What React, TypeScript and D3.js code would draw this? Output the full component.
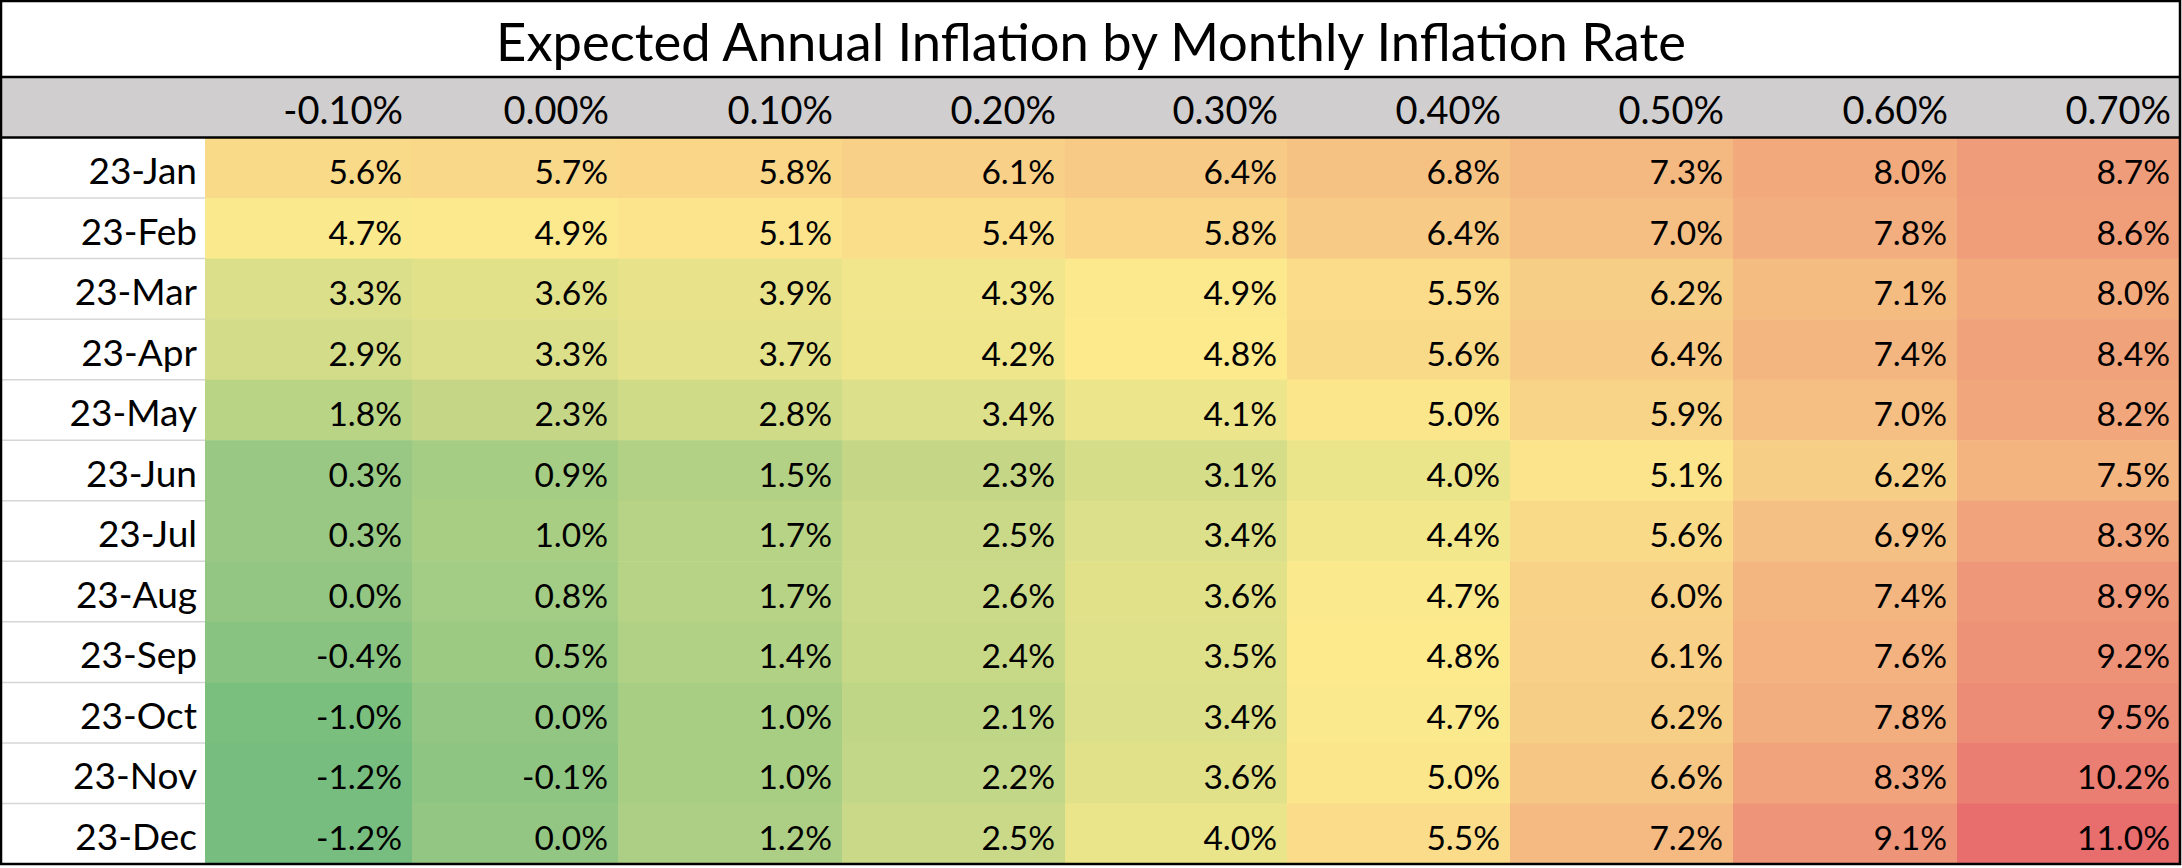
import React, { useEffect } from "react";
import * as d3 from "d3";

const title = "Expected Annual Inflation by Monthly Inflation Rate";
const monthlyRates = ["-0.10%", "0.00%", "0.10%", "0.20%", "0.30%", "0.40%", "0.50%", "0.60%", "0.70%"];
const months = ["23-Jan", "23-Feb", "23-Mar", "23-Apr", "23-May", "23-Jun", "23-Jul", "23-Aug", "23-Sep", "23-Oct", "23-Nov", "23-Dec"];

const jan = [5.6, 5.7, 5.8, 6.1, 6.4, 6.8, 7.3, 8.0, 8.7];
const feb = [4.7, 4.9, 5.1, 5.4, 5.8, 6.4, 7.0, 7.8, 8.6];
const mar = [3.3, 3.6, 3.9, 4.3, 4.9, 5.5, 6.2, 7.1, 8.0];
const apr = [2.9, 3.3, 3.7, 4.2, 4.8, 5.6, 6.4, 7.4, 8.4];
const may = [1.8, 2.3, 2.8, 3.4, 4.1, 5.0, 5.9, 7.0, 8.2];
const jun = [0.3, 0.9, 1.5, 2.3, 3.1, 4.0, 5.1, 6.2, 7.5];
const jul = [0.3, 1.0, 1.7, 2.5, 3.4, 4.4, 5.6, 6.9, 8.3];
const aug = [0.0, 0.8, 1.7, 2.6, 3.6, 4.7, 6.0, 7.4, 8.9];
const sep = [-0.4, 0.5, 1.4, 2.4, 3.5, 4.8, 6.1, 7.6, 9.2];
const oct = [-1.0, 0.0, 1.0, 2.1, 3.4, 4.7, 6.2, 7.8, 9.5];
const nov = [-1.2, -0.1, 1.0, 2.2, 3.6, 5.0, 6.6, 8.3, 10.2];
const dec = [-1.2, 0.0, 1.2, 2.5, 4.0, 5.5, 7.2, 9.1, 11.0];

const values = [jan, feb, mar, apr, may, jun, jul, aug, sep, oct, nov, dec];

// layout
const W = 2182;
const H = 868;
const labelColW = 205;
const colWidths = [207, 206, 224, 223, 222, 223, 223, 224, 223];
const titleBottom = 77;
const headerBottom = 137.5;
const tableBottom = 864;
const tableRight = 2180;
const FONT = "Lato, 'Open Sans', sans-serif";

export default function App() {
  useEffect(() => {
    document.body.style.margin = "0";
  }, []);

  const colStarts: number[] = [];
  colWidths.reduce((acc, w) => {
    colStarts.push(acc);
    return acc + w;
  }, labelColW);

  const y = d3.scaleBand<string>().domain(months).range([headerBottom, tableBottom]);

  const all = values.flat();
  const vmin = d3.min(all)!;
  const vmax = d3.max(all)!;
  const vmed = d3.median(all)!;
  const color = d3
    .scaleLinear<string>()
    .domain([vmin, vmed, vmax])
    .range(["#77bd7f", "#fcea8d", "#e86e6e"])
    .interpolate(d3.interpolateRgb);

  return (
    <svg width={W} height={H} style={{ display: "block", background: "#fff" }} fontFamily={FONT}>
      {/* header background */}
      <rect x={0} y={titleBottom} width={tableRight} height={headerBottom - titleBottom} fill="#d0cecf" />
      {/* title */}
      <text x={W / 2} y={61} textAnchor="middle" fontSize={52.5} fill="#000">
        {title}
      </text>
      {/* header labels */}
      {monthlyRates.map((r, i) => (
        <text key={r} x={colStarts[i] + colWidths[i] - 9} y={124} textAnchor="end" fontSize={38} fill="#000">
          {r}
        </text>
      ))}
      {/* cells */}
      {months.map((m, ri) => (
        <g key={m}>
          {values[ri].map((v, ci) => (
            <rect
              key={ci}
              x={colStarts[ci]}
              y={y(m)!}
              width={colWidths[ci] + 0.5}
              height={y.bandwidth() + 0.5}
              fill={color(v)}
            />
          ))}
        </g>
      ))}
      {/* gridlines in label column */}
      {months.slice(1).map((m) => (
        <line key={m} x1={0} x2={labelColW} y1={y(m)!} y2={y(m)!} stroke="#d6d6d6" strokeWidth={1.5} />
      ))}
      {/* texts */}
      {months.map((m, ri) => (
        <g key={m}>
          <text x={labelColW - 8} y={y(m)! + 46.5} textAnchor="end" fontSize={37} fill="#000">
            {m}
          </text>
          {values[ri].map((v, ci) => (
            <text
              key={ci}
              x={colStarts[ci] + colWidths[ci] - 10}
              y={y(m)! + 46.5}
              textAnchor="end"
              fontSize={33.5}
              fill="#000"
            >
              {v.toFixed(1) + "%"}
            </text>
          ))}
        </g>
      ))}
      {/* borders */}
      <line x1={0} x2={tableRight} y1={titleBottom} y2={titleBottom} stroke="#000" strokeWidth={2.5} />
      <line x1={0} x2={tableRight} y1={headerBottom} y2={headerBottom} stroke="#000" strokeWidth={2.5} />
      <rect x={1} y={1} width={tableRight - 1} height={tableBottom - 1} fill="none" stroke="#000" strokeWidth={2.5} />
    </svg>
  );
}
